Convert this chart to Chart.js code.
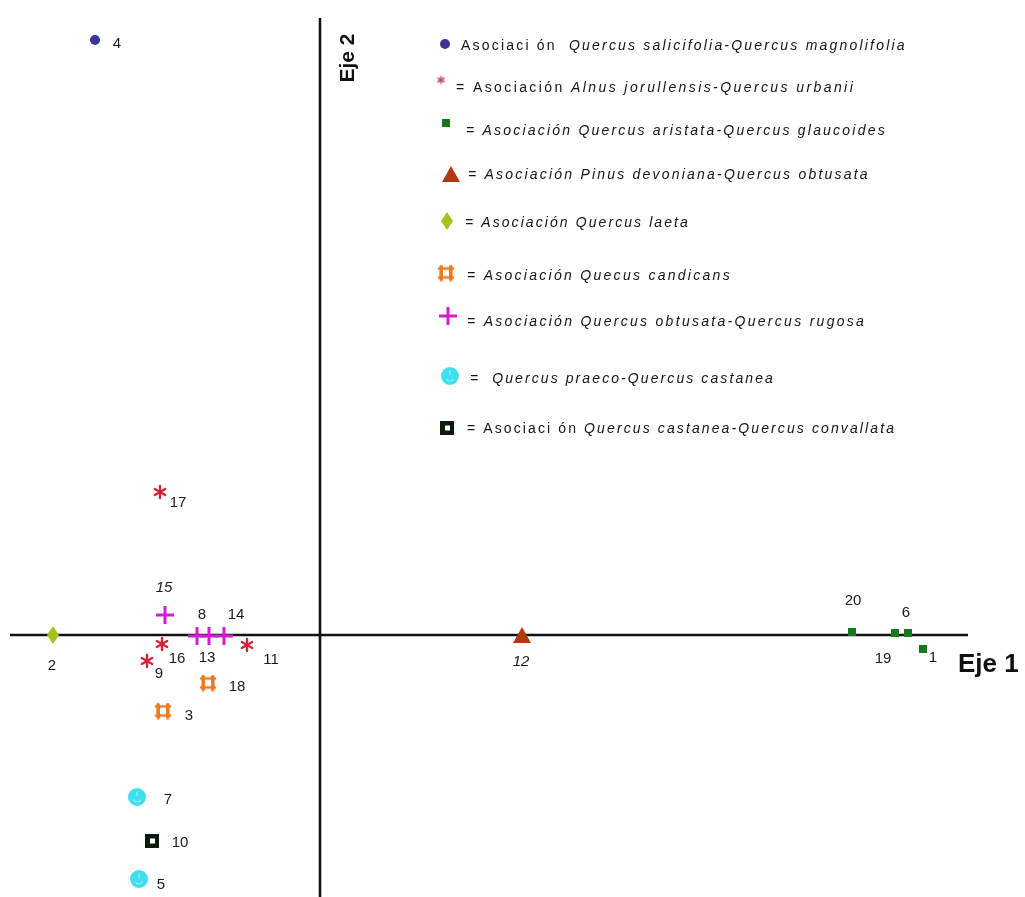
<!DOCTYPE html>
<html>
<head>
<meta charset="utf-8">
<script src="https://cdn.jsdelivr.net/npm/chart.js@4.4.1/dist/chart.umd.min.js"></script>
<style>
  html, body { margin: 0; padding: 0; background: #ffffff; }
  canvas { display: block; }
</style>
</head>
<body>
<canvas id="ord" width="1025" height="897"></canvas>
<script>
// Site scores on the first two ordination axes (Eje 1, Eje 2), one group per association
const salicifoliaSites = ['4'];
const salicifoliaEje1  = [-2.25];
const salicifoliaEje2  = [5.95];

const alnusSites = ['17', '16', '9', '11'];
const alnusEje1  = [-1.60, -1.58, -1.73, -0.73];
const alnusEje2  = [1.43, -0.09, -0.26, -0.10];

const aristataSites = ['20', '19', '6', '1'];
const aristataEje1  = [5.32, 5.75, 5.88, 6.03];
const aristataEje2  = [0.03, 0.02, 0.02, -0.14];

const pinusSites = ['12'];
const pinusEje1  = [2.02];
const pinusEje2  = [0.00];

const laetaSites = ['2'];
const laetaEje1  = [-2.67];
const laetaEje2  = [0.00];

const candicansSites = ['18', '3'];
const candicansEje1  = [-1.12, -1.57];
const candicansEje2  = [-0.48, -0.76];

const rugosaSites = ['15', '8', '13', '14'];
const rugosaEje1  = [-1.55, -1.23, -1.11, -0.96];
const rugosaEje2  = [0.20, -0.01, -0.01, -0.01];

const praecoSites = ['7', '5'];
const praecoEje1  = [-1.83, -1.81];
const praecoEje2  = [-1.62, -2.44];

const convallataSites = ['10'];
const convallataEje1  = [-1.68];
const convallataEje2  = [-2.06];

// Axis extents drawn as the two crossing lines
const eje1Line = [-3.10, 6.48];
const eje2Line = [6.17, -2.70];

// ---- marker images ----
function makeMarker(w, h, draw) {
  const c = document.createElement('canvas');
  c.width = w; c.height = h;
  const g = c.getContext('2d');
  g.translate(w / 2, h / 2);
  draw(g, w, h);
  return c;
}

const mkCircle = (r, color) => makeMarker(2 * r + 2, 2 * r + 2, g => {
  g.fillStyle = color; g.beginPath(); g.arc(0, 0, r, 0, Math.PI * 2); g.fill();
});

const mkAsterisk = (r, color, lw) => makeMarker(2 * r + 4, 2 * r + 4, g => {
  g.strokeStyle = color; g.lineWidth = lw; g.lineCap = 'round';
  for (let k = 0; k < 3; k++) {
    const a = Math.PI / 2 + k * Math.PI / 3;
    g.beginPath();
    g.moveTo(Math.cos(a) * r, Math.sin(a) * r);
    g.lineTo(-Math.cos(a) * r, -Math.sin(a) * r);
    g.stroke();
  }
});

const mkSquare = (s, color) => makeMarker(s, s, g => {
  g.fillStyle = color; g.fillRect(-s / 2, -s / 2, s, s);
});

const mkTriangle = (w, h, color) => makeMarker(w, h, g => {
  g.fillStyle = color; g.beginPath();
  g.moveTo(0, -h / 2); g.lineTo(w / 2, h / 2); g.lineTo(-w / 2, h / 2); g.closePath(); g.fill();
});

const mkDiamond = (w, h, color) => makeMarker(w, h, g => {
  g.fillStyle = color; g.beginPath();
  g.moveTo(0, -h / 2); g.lineTo(w / 2, 0); g.lineTo(0, h / 2); g.lineTo(-w / 2, 0); g.closePath(); g.fill();
});

// square frame whose sides run a little past the corners
const mkCandicans = (w, h, color) => makeMarker(w + 2, h + 2, g => {
  const ex = w / 2, ey = h / 2, ix = ex - 3.2, iy = ey - 3;
  g.strokeStyle = color; g.lineCap = 'round';
  g.lineWidth = 3.6;
  g.beginPath();
  g.moveTo(-ix, -ey + 1); g.lineTo(-ix, ey - 1);
  g.moveTo(ix, -ey + 1); g.lineTo(ix, ey - 1);
  g.stroke();
  g.lineWidth = 2.6;
  g.beginPath();
  g.moveTo(-ex + 1, -iy); g.lineTo(ex - 1, -iy);
  g.moveTo(-ex + 1, iy); g.lineTo(ex - 1, iy);
  g.stroke();
});

const mkPlus = (s, color) => makeMarker(s + 2, s + 2, g => {
  g.strokeStyle = color; g.lineWidth = 3;
  g.beginPath();
  g.moveTo(-s / 2, 0); g.lineTo(s / 2, 0);
  g.moveTo(0, -s / 2); g.lineTo(0, s / 2);
  g.stroke();
});

const mkPraeco = (r, color) => makeMarker(2 * r + 2, 2 * r + 2, g => {
  g.fillStyle = color; g.beginPath(); g.arc(0, 0, r, 0, Math.PI * 2); g.fill();
  g.strokeStyle = 'rgba(190,245,250,0.85)'; g.lineWidth = 1.1;
  g.beginPath(); g.arc(0, 1, r * 0.45, 0.15 * Math.PI, 0.85 * Math.PI); g.stroke();
  g.beginPath(); g.moveTo(0, -r * 0.6); g.lineTo(0, -r * 0.1); g.stroke();
});

const mkConvallata = (s, color) => makeMarker(s, s, g => {
  g.fillStyle = color; g.fillRect(-s / 2, -s / 2, s, s);
  g.fillStyle = '#ffffff'; g.fillRect(-2, -2.5, 5, 5);
});

const markers = {
  salicifolia: mkCircle(5, '#3b3596'),
  alnus:       mkAsterisk(6, '#d3243a', 2.4),
  alnusSmall:  mkAsterisk(3.5, '#c0506a', 1.6),
  aristata:    mkSquare(8, '#167a1c'),
  pinus:       mkTriangle(18, 16, '#b03a10'),
  laeta:       mkDiamond(12, 18, '#a4c41c'),
  candicans:   mkCandicans(16, 15, '#f07a1e'),
  rugosa:      mkPlus(18, '#d21ed2'),
  praeco:      mkPraeco(9, '#3ee0f0'),
  convallata:  mkConvallata(14, '#0c1a0c')
};

// Label placement around each site marker (pixels from the marker centre)
const labelOffset = {
  '4': [22, 4], '17': [18, 11], '16': [15, 15], '9': [12, 13], '11': [24, 15],
  '20': [1, -31], '19': [-12, 26], '6': [-2, -20], '1': [10, 9],
  '12': [-1, 27], '2': [-1, 31], '18': [29, 4], '3': [26, 5],
  '15': [-1, -27], '8': [5, -21], '13': [-2, 22], '14': [12, -21],
  '7': [31, 3], '10': [28, 2], '5': [22, 6]
};
const italicLabels = ['12', '15'];

function toPoints(ids, xs, ys) {
  return ids.map((id, i) => ({ x: xs[i], y: ys[i], site: id }));
}

function siteSet(label, ids, xs, ys, marker) {
  return {
    type: 'scatter',
    label: label,
    data: toPoints(ids, xs, ys),
    pointStyle: marker,
    pointRadius: 8,
    pointHoverRadius: 8,
    clip: false,
    order: 0
  };
}

const datasets = [
  {
    type: 'line', label: 'Eje 1',
    data: [{ x: eje1Line[0], y: 0 }, { x: eje1Line[1], y: 0 }],
    borderColor: '#111111', borderWidth: 2.6, pointRadius: 0, order: 5, clip: false
  },
  {
    type: 'line', label: 'Eje 2',
    data: [{ x: 0, y: eje2Line[0] }, { x: 0, y: eje2Line[1] }],
    borderColor: '#111111', borderWidth: 2.6, pointRadius: 0, order: 5, clip: false
  },
  siteSet('Quercus salicifolia-Quercus magnolifolia', salicifoliaSites, salicifoliaEje1, salicifoliaEje2, markers.salicifolia),
  siteSet('Alnus jorullensis-Quercus urbanii', alnusSites, alnusEje1, alnusEje2, markers.alnus),
  siteSet('Quercus aristata-Quercus glaucoides', aristataSites, aristataEje1, aristataEje2, markers.aristata),
  siteSet('Pinus devoniana-Quercus obtusata', pinusSites, pinusEje1, pinusEje2, markers.pinus),
  siteSet('Quercus laeta', laetaSites, laetaEje1, laetaEje2, markers.laeta),
  siteSet('Quecus candicans', candicansSites, candicansEje1, candicansEje2, markers.candicans),
  siteSet('Quercus obtusata-Quercus rugosa', rugosaSites, rugosaEje1, rugosaEje2, markers.rugosa),
  siteSet('Quercus praeco-Quercus castanea', praecoSites, praecoEje1, praecoEje2, markers.praeco),
  siteSet('Quercus castanea-Quercus convallata', convallataSites, convallataEje1, convallataEje2, markers.convallata)
];

// Site numbers next to every marker
const siteLabels = {
  id: 'siteLabels',
  afterDatasetsDraw(chart) {
    const ctx = chart.ctx;
    ctx.save();
    ctx.fillStyle = '#1a1a1a';
    ctx.textAlign = 'center';
    ctx.textBaseline = 'middle';
    chart.data.datasets.forEach((ds, di) => {
      if (ds.type !== 'scatter') return;
      const meta = chart.getDatasetMeta(di);
      meta.data.forEach((el, i) => {
        const id = ds.data[i].site;
        const off = labelOffset[id] || [14, 0];
        ctx.font = (italicLabels.includes(id) ? 'italic ' : '') + '15px "Liberation Sans", Arial, sans-serif';
        ctx.fillText(id, el.x + off[0], el.y + off[1]);
      });
    });
    ctx.restore();
  }
};

// Axis titles placed at the ends of the two axis lines
const axisTitles = {
  id: 'axisTitles',
  afterDatasetsDraw(chart) {
    const ctx = chart.ctx, xs = chart.scales.x, ys = chart.scales.y;
    ctx.save();
    ctx.fillStyle = '#111111';
    ctx.font = 'bold 26px "Liberation Sans", Arial, sans-serif';
    ctx.textAlign = 'left';
    ctx.textBaseline = 'alphabetic';
    ctx.fillText('Eje 1', xs.getPixelForValue(eje1Line[1]) - 10, ys.getPixelForValue(0) + 37);
    ctx.translate(xs.getPixelForValue(0) + 28, ys.getPixelForValue(eje2Line[0]) + 40);
    ctx.rotate(-Math.PI / 2);
    ctx.font = 'bold 21px "Liberation Sans", Arial, sans-serif';
    ctx.textAlign = 'center';
    ctx.textBaseline = 'middle';
    ctx.fillText('Eje 2', 0, 0);
    ctx.restore();
  }
};

// Legend key: marker, then text runs (plain / italic), stretched to the row width
const legendRows = [
  { m: 'salicifolia', mx: 445, my: 44, tx: 461, ty: 46, end: 907,
    runs: [['Asociaci ón  ', false], ['Quercus salicifolia-Quercus magnolifolia', true]] },
  { m: 'alnusSmall', mx: 441, my: 80, tx: 456, ty: 88, end: 855,
    runs: [['= Asociación ', false], ['Alnus jorullensis-Quercus urbanii', true]] },
  { m: 'aristata', mx: 446, my: 123, tx: 466, ty: 131, end: 887,
    runs: [['= Asociación Quercus aristata-Quercus glaucoides', true]] },
  { m: 'pinus', mx: 451, my: 174, tx: 468, ty: 175, end: 870,
    runs: [['= Asociación Pinus devoniana-Quercus obtusata', true]] },
  { m: 'laeta', mx: 447, my: 221, tx: 465, ty: 223, end: 690,
    runs: [['= Asociación Quercus laeta', true]] },
  { m: 'candicans', mx: 446, my: 273, tx: 467, ty: 276, end: 732,
    runs: [['= Asociación Quecus candicans', true]] },
  { m: 'rugosa', mx: 448, my: 316, tx: 467, ty: 322, end: 866,
    runs: [['= Asociación Quercus obtusata-Quercus rugosa', true]] },
  { m: 'praeco', mx: 450, my: 376, tx: 470, ty: 379, end: 775,
    runs: [['=  Quercus praeco-Quercus castanea', true]] },
  { m: 'convallata', mx: 447, my: 428, tx: 467, ty: 429, end: 896,
    runs: [['= Asociaci ón ', false], ['Quercus castanea-Quercus convallata', true]] }
];

const legendKey = {
  id: 'legendKey',
  afterDraw(chart) {
    const ctx = chart.ctx;
    ctx.save();
    ctx.fillStyle = '#141414';
    ctx.textBaseline = 'middle';
    ctx.textAlign = 'left';
    const fontFor = it => (it ? 'italic ' : '') + '14px "Liberation Sans", Arial, sans-serif';
    legendRows.forEach(row => {
      const img = markers[row.m];
      ctx.drawImage(img, row.mx - img.width / 2, row.my - img.height / 2);
      // natural width and character count, used to spread the letters
      let w = 0, n = 0;
      ctx.letterSpacing = '0px';
      row.runs.forEach(([t, it]) => { ctx.font = fontFor(it); w += ctx.measureText(t).width; n += t.length; });
      const sp = Math.max(0, (row.end - row.tx - w) / n);
      ctx.letterSpacing = sp.toFixed(2) + 'px';
      let x = row.tx;
      row.runs.forEach(([t, it]) => {
        ctx.font = fontFor(it);
        ctx.fillText(t, x, row.ty);
        x += ctx.measureText(t).width;
      });
    });
    ctx.restore();
  }
};

new Chart(document.getElementById('ord'), {
  data: { datasets },
  options: {
    responsive: false,
    animation: false,
    events: [],
    layout: { padding: 0, autoPadding: false },
    plugins: { legend: { display: false }, tooltip: { enabled: false }, title: { display: false } },
    scales: {
      x: { type: 'linear', min: -3.20, max: 7.05, display: false },
      y: { type: 'linear', min: -2.62, max: 6.35, display: false }
    }
  },
  plugins: [siteLabels, axisTitles, legendKey]
});
</script>
</body>
</html>
